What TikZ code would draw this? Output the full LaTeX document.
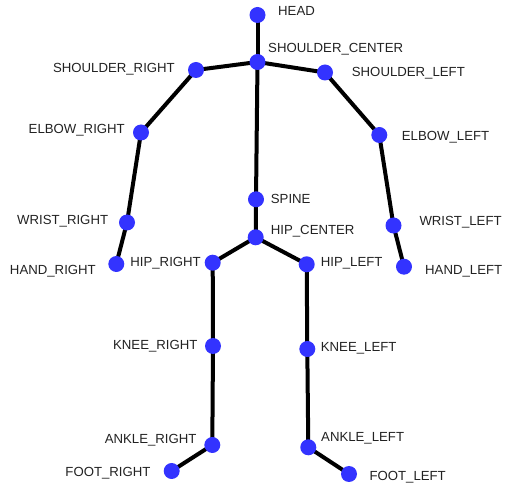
\documentclass[tikz,border=0pt]{standalone}
\usepackage{fontspec}
\setmainfont{Liberation Sans}
\usetikzlibrary{backgrounds}
\definecolor{jointblue}{HTML}{3333FF}
\definecolor{labelgray}{HTML}{222222}
\tikzset{
  joint/.style={circle,fill=jointblue,draw=none,minimum size=16pt,inner sep=0pt},
  bone/.style={line width=4pt,black},
  lbl/.style={font=\fontsize{13.2pt}{14pt}\selectfont,text=labelgray,inner sep=0pt,text height=9.5pt,text depth=0pt}
}
\begin{document}
\begin{tikzpicture}[x=1pt,y=-1pt]
\useasboundingbox (0,0) rectangle (507,489);
% joints
\node[joint] (head) at (257.5,15) {};
\node[joint] (sc) at (257.5,62) {};
\node[joint] (sr) at (196,70) {};
\node[joint] (sl) at (325,72.5) {};
\node[joint] (er) at (141,132.5) {};
\node[joint] (el) at (379.3,135) {};
\node[joint] (wr) at (127,222.5) {};
\node[joint] (wl) at (393.5,225.5) {};
\node[joint] (hr) at (116.3,264) {};
\node[joint] (hl) at (404,266.7) {};
\node[joint] (spine) at (256,199.3) {};
\node[joint] (hc) at (255.7,237.3) {};
\node[joint] (hipr) at (212.7,262.7) {};
\node[joint] (hipl) at (306.7,264.3) {};
\node[joint] (kr) at (213,346) {};
\node[joint] (kl) at (307.3,349) {};
\node[joint] (ar) at (212.3,445) {};
\node[joint] (al) at (308.3,447.3) {};
\node[joint] (fr) at (171.7,471) {};
\node[joint] (fl) at (349,474) {};
% bones
\begin{scope}[on background layer]
\draw[bone] (head.center) -- (sc.center);
\draw[bone] (sc.center) -- (sr.center);
\draw[bone] (sc.center) -- (sl.center);
\draw[bone] (sr.center) -- (er.center) -- (wr.center) -- (hr.center);
\draw[bone] (sl.center) -- (el.center) -- (wl.center) -- (hl.center);
\draw[bone] (sc.center) -- (spine.center) -- (hc.center);
\draw[bone] (hc.center) -- (hipr.center);
\draw[bone] (hc.center) -- (hipl.center);
\draw[bone] (hipr.center) -- (kr.center) -- (ar.center) -- (fr.center);
\draw[bone] (hipl.center) -- (kl.center) -- (al.center) -- (fl.center);
\end{scope}
% labels
\node[lbl,anchor=west] (t1) at (278,11) {HEAD};
\node[lbl,anchor=west] (t2) at (268,47.7) {SHOULDER\_CENTER};
\node[lbl,anchor=east] (t3) at (175,67.7) {SHOULDER\_RIGHT};
\node[lbl,anchor=west] (t4) at (351.7,71.7) {SHOULDER\_LEFT};
\node[lbl,anchor=east] (t5) at (125,129) {ELBOW\_RIGHT};
\node[lbl,anchor=west] (t6) at (401.7,136) {ELBOW\_LEFT};
\node[lbl,anchor=west] (t7) at (270.7,199) {SPINE};
\node[lbl,anchor=east] (t8) at (108.3,219.3) {WRIST\_RIGHT};
\node[lbl,anchor=west] (t9) at (419.3,220.7) {WRIST\_LEFT};
\node[lbl,anchor=west] (t10) at (270.7,229.3) {HIP\_CENTER};
\node[lbl,anchor=east] (t11) at (96,270) {HAND\_RIGHT};
\node[lbl,anchor=east] (t12) at (201,261.7) {HIP\_RIGHT};
\node[lbl,anchor=west] (t13) at (320.7,261.7) {HIP\_LEFT};
\node[lbl,anchor=west] (t14) at (425,270) {HAND\_LEFT};
\node[lbl,anchor=east] (t15) at (197.7,345) {KNEE\_RIGHT};
\node[lbl,anchor=west] (t16) at (320.7,346.7) {KNEE\_LEFT};
\node[lbl,anchor=east] (t17) at (196.7,438.3) {ANKLE\_RIGHT};
\node[lbl,anchor=west] (t18) at (321,436.7) {ANKLE\_LEFT};
\node[lbl,anchor=east] (t19) at (150.7,471.7) {FOOT\_RIGHT};
\node[lbl,anchor=west] (t20) at (369.3,475.7) {FOOT\_LEFT};
\end{tikzpicture}
\end{document}
